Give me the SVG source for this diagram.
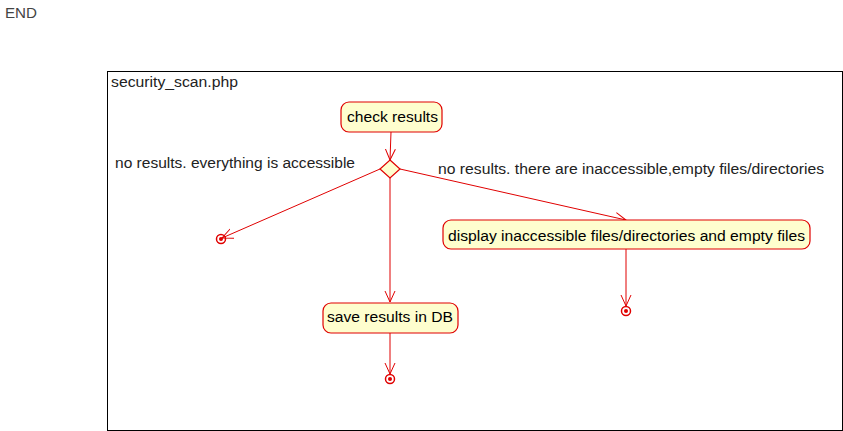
<svg xmlns="http://www.w3.org/2000/svg" width="843" height="431" viewBox="0 0 843 431">
<defs>
<style>
text{font-family:"Liberation Sans",Arial,sans-serif;font-size:15.5px;fill:#000}
.lbl{fill:#222}
.node rect{fill:#FEFECE;stroke:#E00000;stroke-width:1.2}
.edge{stroke:#E00000;stroke-width:1;fill:none}
.end circle.o{fill:none;stroke:#E00000;stroke-width:1.5}
.end circle.i{fill:#E00000}
</style>
<marker id="arr" viewBox="0 0 12 12" refX="11" refY="6" markerWidth="12" markerHeight="12" markerUnits="userSpaceOnUse" orient="auto">
<path d="M0,1 L11,6 L0,11" fill="none" stroke="#E00000" stroke-width="1"/>
</marker>
</defs>
<rect width="843" height="431" fill="#fff"/>
<text x="5" y="18" textLength="32" lengthAdjust="spacingAndGlyphs" style="fill:#444;font-size:15px">END</text>
<g id="frame">
<rect x="107.5" y="71.5" width="735" height="359" fill="none" stroke="#000" stroke-width="1"/>
<text x="111" y="87" textLength="127" lengthAdjust="spacingAndGlyphs" style="fill:#222">security_scan.php</text>
</g>
<g id="connectors">
<line class="edge" x1="391" y1="132" x2="390" y2="160" marker-end="url(#arr)"/>
<line class="edge" x1="380" y1="169" x2="222" y2="238" marker-end="url(#arr)"/>
<line class="edge" x1="400" y1="169" x2="626" y2="220" marker-end="url(#arr)"/>
<line class="edge" x1="390" y1="178" x2="390" y2="302" marker-end="url(#arr)"/>
<line class="edge" x1="626" y1="249" x2="626" y2="306" marker-end="url(#arr)"/>
<line class="edge" x1="390" y1="333" x2="390" y2="374" marker-end="url(#arr)"/>
<text class="lbl" x="115" y="168" textLength="240" lengthAdjust="spacingAndGlyphs">no results. everything is accessible</text>
<text class="lbl" x="438" y="174" textLength="386" lengthAdjust="spacingAndGlyphs">no results. there are inaccessible,empty files/directories</text>
</g>
<g id="check" class="node">
<rect x="341" y="102" width="101" height="30" rx="8"/>
<text x="347" y="122" textLength="91" lengthAdjust="spacingAndGlyphs">check results</text>
</g>
<g id="decision">
<polygon points="390,160 400,169 390,178 380,169" fill="#FEFECE" stroke="#E00000" stroke-width="1.2"/>
</g>
<g id="display" class="node">
<rect x="443" y="220" width="367" height="29" rx="8"/>
<text x="448" y="241" textLength="357" lengthAdjust="spacingAndGlyphs">display inaccessible files/directories and empty files</text>
</g>
<g id="save" class="node">
<rect x="323" y="303" width="135" height="30" rx="8"/>
<text x="327" y="322" textLength="126" lengthAdjust="spacingAndGlyphs">save results in DB</text>
</g>
<g id="end1" class="end"><circle class="o" cx="221" cy="239" r="4.5"/><circle class="i" cx="221" cy="239" r="2"/></g>
<g id="end2" class="end"><circle class="o" cx="626" cy="311" r="4.5"/><circle class="i" cx="626" cy="311" r="2"/></g>
<g id="end3" class="end"><circle class="o" cx="390" cy="379" r="4.5"/><circle class="i" cx="390" cy="379" r="2"/></g>
</svg>
